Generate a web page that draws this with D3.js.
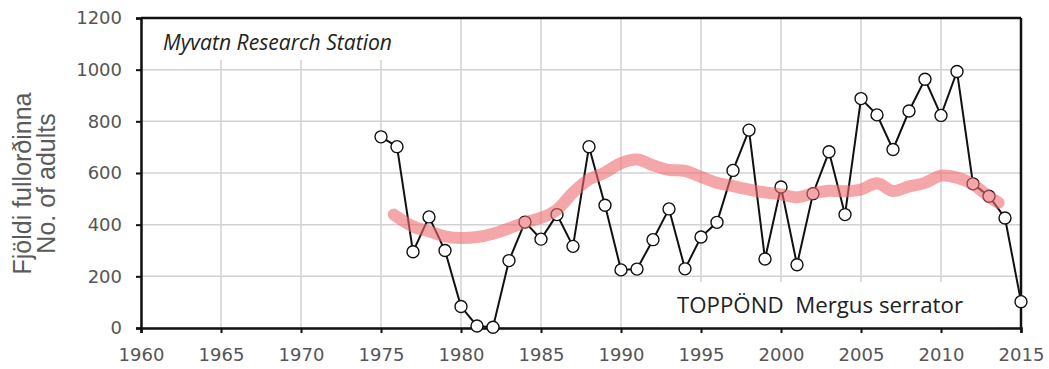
<!DOCTYPE html>
<html><head><meta charset="utf-8">
<script src="https://cdn.jsdelivr.net/npm/d3@7"></script>
<style>html,body{margin:0;padding:0;background:#fff;}svg{display:block;}</style>
</head><body>
<script>
const years = [1975,1976,1977,1978,1979,1980,1981,1982,1983,1984,1985,1986,1987,1988,1989,1990,1991,1992,1993,1994,1995,1996,1997,1998,1999,2000,2001,2002,2003,2004,2005,2006,2007,2008,2009,2010,2011,2012,2013,2014,2015];
const adults = [740,702,295,430,300,83,8,3,261,410,344,439,316,702,475,225,228,342,461,229,352,409,610,766,267,546,245,520,682,439,888,825,691,840,963,823,993,558,510,426,102];
const trendYears = [1975.8,1977,1978,1979,1980,1981,1982,1983,1984,1985,1986,1987,1988,1989,1990,1991,1992,1993,1994,1995,1996,1997,1998,1999,2000,2001,2002,2003,2004,2005,2006,2007,2008,2009,2010,2011,2012,2013,2013.6];
const trendValues = [439,393,374,355,348,352,365,386,409,426,458,524,575,602,638,652,630,612,608,585,562,549,536,525,517,506,521,531,529,536,560,530,548,562,590,582,556,508,485];
const xTicks = [1960,1965,1970,1975,1980,1985,1990,1995,2000,2005,2010,2015];
const yTicks = [0,200,400,600,800,1000,1200];
const yTitle = ["Fjöldi fullorðinna","No. of adults"];
const stationLabel = "Myvatn Research Station";
const speciesLabel = "TOPPÖND  Mergus serrator";

const W=1049,H=369;
const m={l:141,r:1021,t:18,b:328};
const svg=d3.select("body").append("svg").attr("width",W).attr("height",H);
const x=d3.scaleLinear().domain([1960,2015]).range([m.l,m.r]);
const y=d3.scaleLinear().domain([0,1200]).range([m.b,m.t]);

// grid
const g=svg.append("g");
g.selectAll(".vg").data(xTicks).join("line")
 .attr("x1",d=>x(d)).attr("x2",d=>x(d)).attr("y1",m.t).attr("y2",m.b)
 .attr("stroke","#d2d2d2").attr("stroke-width",1.5);
g.selectAll(".hg").data(yTicks).join("line")
 .attr("y1",d=>y(d)).attr("y2",d=>y(d)).attr("x1",m.l).attr("x2",m.r)
 .attr("stroke","#d2d2d2").attr("stroke-width",1.5);

// label boxes
svg.append("rect").attr("x",m.l+1).attr("y",m.t+1).attr("width",263).attr("height",41).attr("fill","#fff");
svg.append("rect").attr("x",662).attr("y",282).attr("width",336).attr("height",m.b-282).attr("fill","#fff");

svg.append("text").attr("x",163).attr("y",50).text(stationLabel)
 .attr("font-family","Open Sans, sans-serif").attr("font-style","italic").attr("font-size",21).attr("fill","#222")
 .attr("textLength",229).attr("lengthAdjust","spacingAndGlyphs");
svg.append("text").attr("x",677).attr("y",313).text(speciesLabel).style("white-space","pre")
 .attr("font-family","Open Sans, sans-serif").attr("font-size",22).attr("fill","#222")
 .attr("textLength",286).attr("lengthAdjust","spacingAndGlyphs");

// frame
svg.append("line").attr("x1",m.l).attr("x2",m.r).attr("y1",m.t).attr("y2",m.t).attr("stroke","#111").attr("stroke-width",2.5);
svg.append("line").attr("x1",m.r).attr("x2",m.r).attr("y1",m.t).attr("y2",m.b).attr("stroke","#111").attr("stroke-width",2.5);

// axes
const ax=svg.append("g").attr("transform",`translate(0,${m.b})`)
 .call(d3.axisBottom(x).tickValues(xTicks).tickFormat(d3.format("d")).tickSize(5).tickPadding(15));
const ay=svg.append("g").attr("transform",`translate(${m.l},0)`)
 .call(d3.axisLeft(y).tickValues(yTicks).tickFormat(d3.format("d")).tickSize(5).tickPadding(14));
[ax,ay].forEach(a=>{
 a.select(".domain").attr("stroke","#111").attr("stroke-width",2.5);
 a.selectAll(".tick line").attr("stroke","#111").attr("stroke-width",2);
 a.selectAll("text").attr("font-family","DejaVu Sans, sans-serif").attr("font-size",18).attr("fill","#555");
});

// y title
const yt=svg.append("text").attr("transform","translate(31,183.5) rotate(-90)")
 .attr("text-anchor","middle").attr("font-family","Liberation Sans, Arial, sans-serif").attr("font-size",25).attr("fill","#5a5a5a");
yTitle.forEach((t,i)=>yt.append("tspan").attr("x",0).attr("dy",i?24:0).text(t));

// data line
const pts=years.map((yr,i)=>[yr,adults[i]]);
svg.append("path").datum(pts).attr("fill","none").attr("stroke","#111").attr("stroke-width",2)
 .attr("d",d3.line().x(d=>x(d[0])).y(d=>y(d[1])));
svg.selectAll(".pt").data(pts).join("circle").attr("cx",d=>x(d[0])).attr("cy",d=>y(d[1])).attr("r",6)
 .attr("fill","#fff").attr("stroke","#111").attr("stroke-width",1.4);

// trend
const tr=trendYears.map((yr,i)=>[yr,trendValues[i]]);
svg.append("path").datum(tr).attr("fill","none").attr("stroke","#ee6a6e").attr("stroke-opacity",0.6)
 .attr("stroke-width",12).attr("stroke-linecap","round").attr("stroke-linejoin","round")
 .attr("d",d3.line().curve(d3.curveCatmullRom).x(d=>x(d[0])).y(d=>y(d[1])));
</script>
</body></html>
